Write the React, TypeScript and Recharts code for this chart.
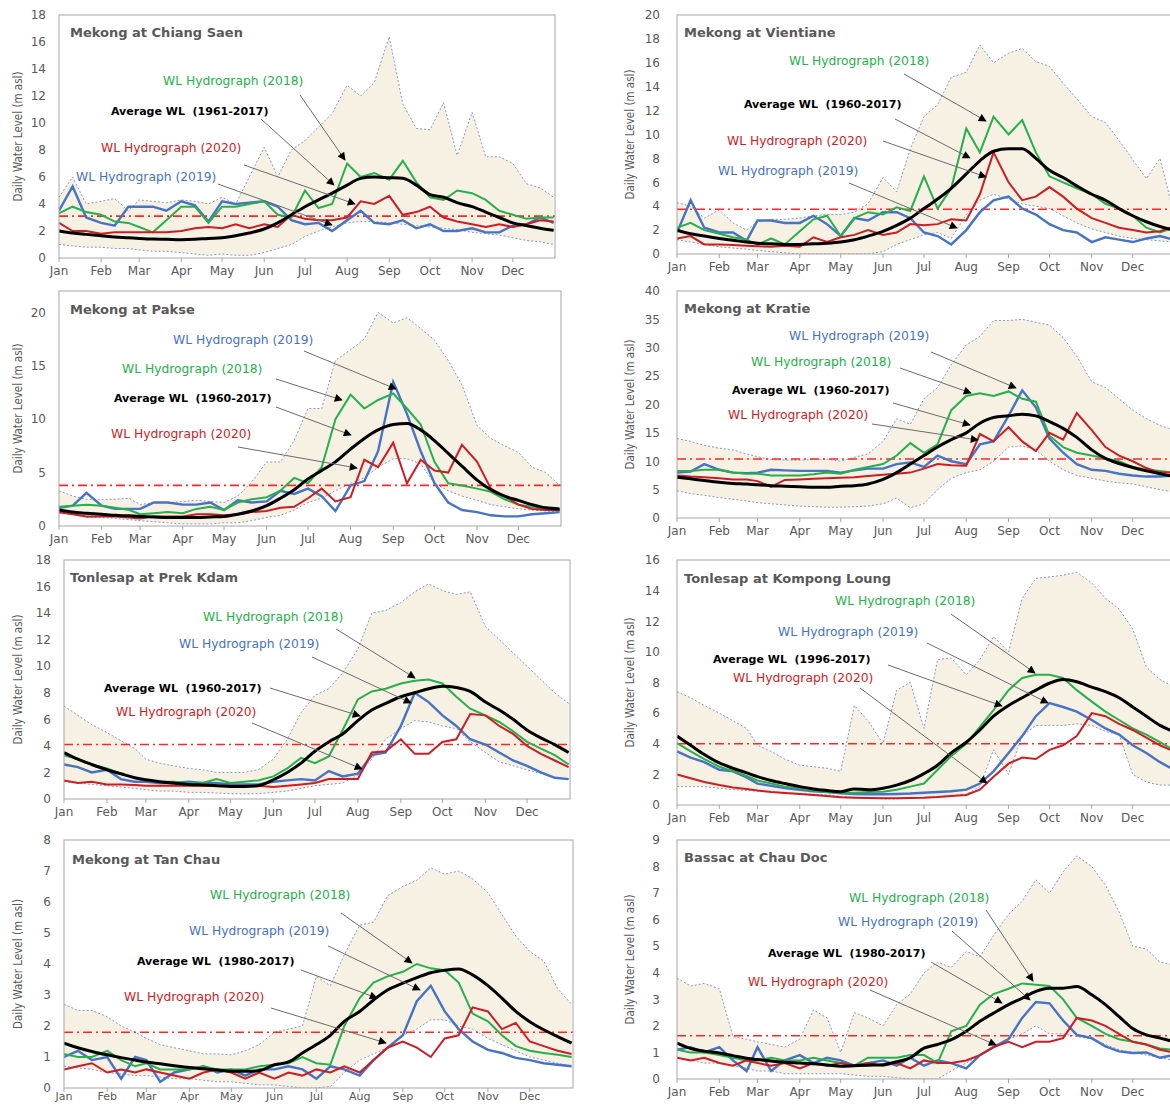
import React from 'react';
import { ComposedChart, Area, Line, XAxis, YAxis, ReferenceLine } from 'recharts';

// sample days (1st, 11th, 21st of each month + 31 Dec)
const DAYS = [1, 11, 21, 32, 42, 52, 60, 70, 80, 91, 101, 111, 121, 131, 141, 152, 162, 172, 182, 192, 202, 213, 223, 233, 244, 254, 264, 274, 284, 294, 305, 315, 325, 335, 345, 355, 365];
const MONTH_START = [1, 32, 60, 91, 121, 152, 182, 213, 244, 274, 305, 335];
const MONTHS = ['Jan', 'Feb', 'Mar', 'Apr', 'May', 'Jun', 'Jul', 'Aug', 'Sep', 'Oct', 'Nov', 'Dec'];

// Mekong at Chiang Saen
const chiangSaenMax = [4.5, 6.0, 4.0, 4.2, 4.4, 3.5, 4.3, 4.2, 4.1, 4.3, 4.2, 4.0, 4.5, 4.0, 6.0, 8.2, 6.0, 8.0, 8.7, 9.7, 10.7, 12.8, 12.0, 13.0, 16.4, 11.4, 9.6, 9.5, 11.5, 7.6, 10.8, 7.5, 7.5, 7.0, 5.5, 5.2, 4.5];
const chiangSaenMin = [1.0, 0.9, 0.8, 0.8, 0.7, 0.7, 0.6, 0.5, 0.5, 0.4, 0.3, 0.2, 0.3, 0.2, 0.2, 0.4, 0.7, 1.0, 1.6, 2.0, 2.3, 2.6, 2.7, 2.7, 2.6, 2.5, 2.4, 2.3, 2.2, 2.1, 1.9, 1.8, 1.7, 1.5, 1.3, 1.2, 1.0];
const chiangSaenAvg = [2.0, 1.85, 1.75, 1.65, 1.55, 1.5, 1.45, 1.4, 1.38, 1.35, 1.38, 1.45, 1.5, 1.65, 1.85, 2.15, 2.6, 3.2, 3.8, 4.3, 4.8, 5.4, 5.9, 6.0, 5.95, 5.9, 5.4, 4.7, 4.5, 4.1, 3.8, 3.4, 3.0, 2.6, 2.4, 2.2, 2.05];
const chiangSaen2018 = [3.3, 3.8, 3.4, 3.2, 2.7, 2.6, 2.3, 1.9, 2.8, 3.8, 3.8, 2.6, 3.8, 3.8, 4.0, 4.2, 3.2, 3.0, 5.0, 3.7, 4.0, 7.0, 6.0, 6.3, 5.8, 7.2, 5.6, 4.5, 4.3, 5.0, 4.8, 4.3, 3.5, 3.2, 2.9, 3.0, 3.0];
const chiangSaen2019 = [3.5, 5.3, 3.0, 2.6, 2.4, 3.8, 3.8, 3.8, 3.5, 4.2, 3.9, 2.7, 4.2, 4.0, 4.1, 4.2, 3.8, 2.8, 2.5, 2.6, 2.0, 2.8, 3.5, 2.6, 2.5, 2.8, 2.2, 2.5, 2.0, 2.0, 2.2, 1.9, 1.9, 2.4, 2.5, 3.0, 2.6];
const chiangSaen2020 = [2.6, 2.0, 2.0, 1.8, 1.9, 1.9, 1.9, 1.9, 1.9, 2.0, 2.2, 2.3, 2.2, 2.5, 2.2, 2.5, 2.3, 3.2, 2.9, 2.8, 2.8, 3.0, 4.2, 4.0, 4.6, 3.2, 3.4, 3.8, 3.0, 2.7, 2.5, 2.3, 2.5, 2.3, 2.5, 2.8, 2.7];
const chiangSaenAlarm = 3.1;
const chiangSaenTicks = [0, 2, 4, 6, 8, 10, 12, 14, 16, 18];

// Mekong at Vientiane
const vientianeMax = [4.3, 4.0, 3.0, 3.7, 2.6, 2.0, 2.7, 2.9, 2.9, 3.0, 3.2, 3.3, 3.3, 3.5, 4.2, 6.4, 5.2, 8.8, 11.5, 12.5, 14.8, 15.2, 17.5, 16.0, 16.8, 17.2, 16.1, 15.7, 14.3, 13.0, 11.5, 11.0, 9.5, 7.9, 6.3, 8.0, 3.5];
const vientianeMin = [1.2, 1.0, 0.8, 0.6, 0.5, 0.4, 0.3, 0.2, 0.1, 0.0, 0.0, 0.0, 0.0, 0.0, 0.0, 0.2, 0.8, 1.2, 1.6, 1.8, 1.3, 3.3, 4.5, 5.0, 4.6, 4.2, 4.0, 3.8, 3.2, 2.6, 2.1, 1.8, 1.5, 1.3, 1.2, 1.1, 1.0];
const vientianeAvg = [2.0, 1.7, 1.5, 1.3, 1.15, 1.0, 0.9, 0.85, 0.8, 0.8, 0.85, 0.9, 1.0, 1.2, 1.5, 1.9, 2.4, 3.0, 3.8, 4.6, 5.5, 6.7, 7.8, 8.6, 8.8, 8.8, 8.0, 7.0, 6.4, 5.7, 5.0, 4.5, 3.8, 3.2, 2.7, 2.3, 2.0];
const vientiane2018 = [2.2, 2.6, 2.0, 1.7, 1.4, 1.2, 0.8, 1.3, 0.8, 1.9, 2.9, 3.2, 1.5, 3.0, 3.5, 3.3, 3.9, 3.6, 6.5, 3.8, 5.5, 10.5, 8.5, 11.5, 10.0, 11.2, 8.5, 6.5, 6.0, 5.5, 5.0, 4.2, 3.8, 3.2, 2.2, 1.8, 2.2];
const vientiane2019 = [1.8, 4.5, 2.2, 1.8, 1.8, 1.1, 2.8, 2.8, 2.6, 2.6, 3.2, 2.5, 1.5, 3.0, 2.8, 3.5, 3.5, 3.0, 1.8, 1.5, 0.8, 2.0, 3.5, 4.5, 4.8, 3.8, 3.3, 2.5, 2.0, 1.8, 1.0, 1.4, 1.2, 1.0, 1.3, 1.5, 1.2];
const vientiane2020 = [1.3, 1.5, 0.8, 0.8, 0.75, 0.7, 0.65, 0.6, 0.7, 0.6, 1.4, 1.0, 1.4, 1.6, 2.0, 1.6, 1.8, 2.5, 2.4, 2.5, 2.9, 2.8, 5.0, 8.5, 6.0, 4.5, 4.8, 5.6, 4.8, 3.8, 3.0, 2.6, 2.2, 2.0, 1.8, 1.9, 2.3];
const vientianeAlarm = 3.75;
const vientianeTicks = [0, 2, 4, 6, 8, 10, 12, 14, 16, 18, 20];

// Mekong at Pakse
const pakseMax = [3.3, 2.8, 2.5, 2.5, 2.5, 2.6, 2.0, 2.2, 2.2, 2.3, 2.4, 2.3, 2.2, 2.8, 4.1, 6.0, 6.0, 8.0, 11.0, 11.0, 15.5, 16.5, 17.5, 20.0, 19.0, 19.5, 18.5, 17.4, 15.5, 13.2, 9.4, 8.2, 7.5, 6.9, 5.5, 5.0, 3.8];
const pakseMin = [1.2, 1.1, 0.8, 0.8, 0.7, 0.6, 0.5, 0.4, 0.3, 0.2, 0.2, 0.2, 0.3, 0.3, 0.5, 0.8, 1.0, 1.5, 2.2, 2.6, 3.3, 4.0, 4.5, 5.5, 6.3, 6.3, 5.8, 4.0, 3.3, 2.8, 2.4, 2.0, 1.8, 1.6, 1.5, 1.4, 1.3];
const pakseAvg = [1.5, 1.3, 1.2, 1.1, 1.0, 0.95, 0.9, 0.85, 0.8, 0.8, 0.8, 0.85, 0.9, 1.1, 1.4, 1.9, 2.6, 3.4, 4.4, 5.2, 6.0, 7.2, 8.2, 9.0, 9.5, 9.6, 9.0, 8.0, 6.8, 5.6, 4.3, 3.4, 2.8, 2.4, 2.0, 1.7, 1.6];
const pakse2018 = [1.8, 1.9, 2.0, 1.9, 1.7, 1.5, 1.1, 1.2, 1.3, 1.2, 1.6, 1.8, 1.5, 2.2, 2.5, 2.7, 3.3, 4.5, 4.0, 5.5, 10.0, 12.3, 11.0, 11.8, 12.4, 11.0, 9.5, 6.0, 4.0, 3.8, 3.5, 3.2, 2.5, 2.0, 1.8, 1.5, 1.5];
const pakse2019 = [1.7, 1.9, 3.1, 1.9, 1.6, 1.6, 1.6, 2.2, 2.2, 2.0, 2.0, 2.2, 1.5, 2.4, 2.2, 2.3, 3.3, 3.0, 3.5, 2.8, 1.4, 3.8, 4.2, 7.0, 13.5, 10.5, 7.0, 4.0, 2.2, 1.5, 1.3, 1.0, 0.9, 0.9, 1.1, 1.2, 1.3];
const pakse2020 = [1.3, 1.1, 0.9, 0.9, 0.9, 0.8, 0.7, 0.9, 0.9, 0.9, 1.1, 1.1, 1.0, 1.1, 1.3, 1.4, 1.7, 1.8, 2.6, 3.5, 2.3, 2.7, 6.2, 5.5, 7.8, 4.0, 6.2, 5.2, 5.0, 7.6, 6.0, 3.5, 2.8, 2.0, 1.6, 1.5, 1.5];
const pakseAlarm = 3.8;
const pakseTicks = [0, 5, 10, 15, 20];

// Mekong at Kratie
const kratieMax = [14.0, 13.5, 12.8, 12.3, 12.0, 11.3, 10.8, 10.3, 10.2, 10.2, 10.3, 10.4, 10.0, 10.7, 11.3, 13.5, 17.5, 16.5, 21.0, 23.0, 27.0, 30.5, 32.0, 34.8, 34.8, 35.0, 34.5, 34.0, 31.8, 28.5, 24.0, 23.0, 21.0, 19.0, 17.5, 16.3, 15.5];
const kratieMin = [4.8, 4.3, 4.0, 3.6, 3.3, 3.0, 2.7, 2.5, 2.3, 2.1, 2.0, 1.9, 1.9, 2.0, 2.1, 2.5, 3.5, 1.8, 2.5, 5.0, 7.0, 8.0, 8.5, 10.0, 12.5, 12.7, 12.0, 10.0, 8.5, 7.5, 7.0, 6.5, 6.2, 6.0, 5.5, 5.0, 4.6];
const kratieAvg = [7.2, 6.9, 6.6, 6.3, 6.1, 6.0, 5.85, 5.7, 5.6, 5.5, 5.4, 5.4, 5.6, 5.7, 6.0, 6.8, 8.0, 9.5, 11.0, 12.5, 13.8, 15.0, 16.7, 17.7, 18.0, 18.3, 18.0, 17.0, 15.8, 14.2, 12.0, 10.5, 9.6, 8.9, 8.3, 7.8, 7.3];
const kratie2018 = [8.3, 8.3, 8.5, 8.5, 8.0, 7.8, 7.8, 7.5, 7.5, 7.5, 7.7, 8.0, 7.8, 8.5, 9.0, 9.5, 11.0, 13.2, 11.5, 13.0, 19.0, 21.5, 22.0, 21.5, 22.3, 21.0, 20.5, 14.5, 12.5, 11.5, 11.0, 10.5, 10.0, 9.0, 8.5, 8.3, 8.0];
const kratie2019 = [8.0, 8.2, 9.5, 8.5, 8.0, 7.9, 8.0, 8.5, 8.4, 8.3, 8.3, 8.3, 8.0, 8.4, 8.7, 8.7, 9.5, 9.8, 9.0, 11.0, 10.0, 9.5, 13.0, 13.5, 18.0, 22.5, 19.5, 14.0, 11.5, 9.5, 8.5, 8.3, 7.8, 7.5, 7.3, 7.3, 7.5];
const kratie2020 = [7.5, 7.3, 7.2, 7.0, 6.8, 6.8, 6.5, 5.5, 6.7, 6.8, 6.9, 7.0, 7.1, 7.2, 7.4, 7.6, 7.8, 8.0, 8.7, 9.5, 9.3, 9.2, 14.8, 13.5, 16.0, 13.5, 11.8, 15.0, 13.8, 18.5, 15.5, 12.5, 11.0, 10.0, 8.8, 8.0, 8.0];
const kratieAlarm = 10.4;
const kratieTicks = [0, 5, 10, 15, 20, 25, 30, 35, 40];

// Tonlesap at Prek Kdam
const prekKdamMax = [7.0, 6.3, 5.6, 5.0, 4.4, 3.8, 3.0, 2.7, 2.5, 2.3, 2.2, 2.0, 2.0, 2.0, 2.2, 3.0, 4.5, 6.5, 7.8, 8.3, 9.5, 11.3, 14.0, 14.2, 14.8, 15.6, 16.2, 15.7, 15.4, 15.6, 13.0, 12.0, 11.0, 10.0, 9.0, 8.0, 7.2];
const prekKdamMin = [1.3, 1.2, 1.1, 1.0, 0.9, 0.8, 0.7, 0.6, 0.6, 0.5, 0.5, 0.45, 0.4, 0.4, 0.4, 0.5, 0.6, 0.8, 1.0, 1.1, 1.2, 1.8, 3.0, 4.5, 5.3, 5.9, 5.8, 5.5, 5.3, 4.3, 3.5, 2.8, 2.5, 2.2, 1.9, 1.6, 1.5];
const prekKdamAvg = [3.5, 3.0, 2.6, 2.2, 1.9, 1.6, 1.45, 1.3, 1.2, 1.1, 1.05, 1.0, 0.95, 0.95, 1.0, 1.45, 2.0, 2.7, 3.6, 4.3, 4.9, 5.9, 6.7, 7.2, 7.7, 8.0, 8.3, 8.5, 8.4, 8.1, 7.3, 6.7, 6.0, 5.2, 4.6, 4.1, 3.5];
const prekKdam2018 = [3.3, 3.0, 2.6, 2.3, 1.9, 1.6, 1.4, 1.3, 1.3, 1.2, 1.2, 1.5, 1.2, 1.3, 1.4, 1.7, 2.3, 3.1, 2.7, 3.2, 5.2, 7.5, 8.1, 8.3, 8.7, 8.9, 9.0, 8.7, 7.7, 6.8, 6.3, 5.8, 5.1, 4.3, 3.8, 3.3, 2.6];
const prekKdam2019 = [2.6, 2.4, 2.0, 2.2, 1.5, 1.3, 1.3, 1.2, 1.2, 1.3, 1.2, 1.2, 1.1, 1.1, 1.1, 1.3, 1.4, 1.5, 1.4, 2.1, 1.7, 1.9, 3.3, 3.5, 5.5, 8.0, 7.3, 6.3, 5.5, 4.5, 4.1, 3.5, 2.9, 2.5, 2.0, 1.6, 1.5];
const prekKdam2020 = [1.4, 1.2, 1.3, 1.1, 1.1, 1.05, 1.0, 1.0, 1.0, 1.0, 1.0, 1.0, 1.0, 1.0, 1.0, 0.9, 1.0, 1.1, 1.2, 1.5, 1.5, 1.5, 3.5, 3.6, 4.5, 3.4, 3.4, 4.3, 4.5, 6.4, 6.3, 5.5, 4.9, 4.0, 3.4, 2.9, 2.4];
const prekKdamAlarm = 4.1;
const prekKdamTicks = [0, 2, 4, 6, 8, 10, 12, 14, 16, 18];

// Tonlesap at Kompong Loung
const kompongLoungMax = [7.4, 7.0, 6.5, 6.0, 5.5, 5.0, 3.9, 3.5, 3.0, 2.6, 2.5, 2.4, 2.2, 6.5, 5.5, 4.0, 7.5, 8.0, 5.0, 9.5, 9.6, 8.5, 9.5, 11.0, 10.0, 13.5, 14.8, 14.9, 15.0, 15.2, 14.5, 13.5, 12.8, 11.5, 9.0, 8.2, 7.7];
const kompongLoungMin = [1.2, 1.2, 1.2, 1.1, 1.0, 0.95, 0.9, 0.85, 0.8, 0.75, 0.7, 0.65, 0.55, 0.5, 0.45, 0.4, 0.4, 0.45, 0.5, 0.55, 0.6, 0.7, 1.2, 3.6, 2.0, 4.5, 5.2, 5.2, 5.2, 5.3, 5.2, 4.8, 4.6, 2.0, 1.5, 1.3, 1.3];
const kompongLoungAvg = [4.5, 3.9, 3.3, 2.75, 2.4, 2.1, 1.85, 1.6, 1.4, 1.2, 1.05, 0.95, 0.87, 1.05, 1.0, 1.1, 1.3, 1.6, 2.05, 2.6, 3.4, 4.1, 4.9, 5.8, 6.5, 7.0, 7.5, 7.95, 8.2, 8.05, 7.7, 7.4, 7.0, 6.4, 5.8, 5.2, 4.8];
const kompongLoung2018 = [4.05, 3.5, 3.0, 2.5, 2.2, 1.9, 1.6, 1.4, 1.2, 1.1, 0.95, 0.85, 0.8, 0.8, 0.85, 0.87, 1.0, 1.2, 1.4, 2.3, 3.2, 4.0, 5.1, 6.2, 7.5, 8.3, 8.5, 8.5, 8.3, 7.5, 6.75, 6.1, 5.55, 5.0, 4.6, 4.1, 3.6];
const kompongLoung2019 = [3.5, 3.1, 2.8, 2.3, 2.2, 1.8, 1.4, 1.25, 1.1, 1.0, 0.9, 0.85, 0.76, 0.72, 0.7, 0.7, 0.72, 0.75, 0.8, 0.85, 0.9, 1.0, 1.4, 2.2, 3.4, 4.5, 5.8, 6.65, 6.4, 6.1, 5.55, 5.0, 4.6, 3.9, 3.4, 2.8, 2.3];
const kompongLoung2020 = [2.0, 1.75, 1.5, 1.3, 1.15, 1.05, 0.94, 0.85, 0.78, 0.72, 0.65, 0.58, 0.5, 0.47, 0.45, 0.44, 0.44, 0.46, 0.48, 0.52, 0.58, 0.65, 1.0, 1.85, 2.7, 3.1, 3.0, 3.6, 3.9, 4.5, 6.0, 5.8, 5.3, 4.9, 4.4, 3.9, 3.5];
const kompongLoungAlarm = 4.0;
const kompongLoungTicks = [0, 2, 4, 6, 8, 10, 12, 14, 16];

// Mekong at Tan Chau
const tanChauMax = [2.7, 2.5, 2.5, 2.3, 2.0, 1.8, 1.6, 1.4, 1.3, 1.2, 1.1, 1.1, 1.07, 1.2, 1.4, 1.8, 1.9, 2.0, 3.6, 3.3, 4.3, 5.25, 5.35, 6.2, 6.5, 6.7, 7.1, 6.9, 7.0, 6.75, 6.3, 5.6, 4.9, 4.4, 4.1, 3.2, 2.7];
const tanChauMin = [0.7, 0.65, 0.6, 0.5, 0.45, 0.4, 0.4, 0.35, 0.3, 0.3, 0.25, 0.2, 0.2, 0.15, 0.1, 0.1, 0.05, 0.0, 0.0, 0.05, 0.5, 0.9, 1.1, 1.3, 1.7, 1.9, 2.2, 2.2, 2.0, 1.9, 1.6, 1.4, 1.2, 1.0, 0.9, 0.8, 0.7];
const tanChauAvg = [1.45, 1.3, 1.18, 1.07, 0.98, 0.9, 0.84, 0.78, 0.72, 0.66, 0.62, 0.58, 0.54, 0.54, 0.56, 0.75, 0.84, 1.13, 1.4, 1.7, 2.15, 2.47, 2.84, 3.16, 3.38, 3.56, 3.72, 3.8, 3.84, 3.65, 3.3, 2.9, 2.47, 2.14, 1.88, 1.66, 1.45];
const tanChau2018 = [1.1, 1.0, 1.0, 1.2, 0.9, 0.7, 0.8, 0.6, 0.6, 0.6, 0.7, 0.6, 0.6, 0.6, 0.7, 0.75, 0.8, 1.0, 0.8, 0.75, 2.0, 2.9, 3.4, 3.6, 3.75, 4.0, 3.86, 3.8, 3.4, 2.4, 2.15, 1.7, 1.35, 1.2, 1.13, 1.07, 1.0];
const tanChau2019 = [1.0, 1.2, 0.9, 1.0, 0.3, 1.0, 0.9, 0.2, 0.5, 0.6, 0.7, 0.5, 0.6, 0.4, 0.6, 0.6, 0.7, 0.6, 0.3, 0.7, 0.6, 0.4, 0.9, 1.3, 1.7, 2.8, 3.3, 2.47, 1.9, 1.5, 1.23, 1.13, 0.97, 0.9, 0.8, 0.75, 0.7];
const tanChau2020 = [0.6, 0.7, 0.8, 0.5, 0.6, 0.5, 0.6, 0.5, 0.4, 0.3, 0.5, 0.6, 0.5, 0.3, 0.5, 0.3, 0.5, 0.4, 0.6, 0.5, 0.7, 0.5, 0.9, 1.3, 1.5, 1.3, 1.0, 1.6, 1.7, 2.6, 2.47, 1.9, 2.1, 1.5, 1.35, 1.2, 1.1];
const tanChauAlarm = 1.8;
const tanChauTicks = [0, 1, 2, 3, 4, 5, 6, 7, 8];

// Bassac at Chau Doc
const chauDocMax = [3.8, 3.5, 3.6, 3.4, 1.6, 1.5, 1.4, 1.3, 1.2, 1.5, 2.6, 2.3, 1.0, 2.5, 2.3, 2.0, 2.8, 3.2, 4.0, 4.4, 4.2, 4.8, 4.6, 5.4, 6.2, 6.7, 7.5, 7.0, 7.8, 8.4, 8.0, 7.3, 6.3, 5.0, 4.9, 4.4, 4.3];
const chauDocMin = [0.8, 0.7, 0.6, 0.6, 0.5, 0.4, 0.3, 0.3, 0.2, 0.2, 0.2, 0.2, 0.2, 0.15, 0.1, 0.1, 0.05, 0.0, 0.0, 0.0, 0.3, 0.6, 0.9, 1.2, 1.5, 1.7, 2.0, 1.7, 1.7, 1.6, 1.5, 1.3, 1.1, 1.0, 0.9, 0.8, 0.7];
const chauDocAvg = [1.35, 1.15, 1.05, 0.98, 0.88, 0.78, 0.73, 0.68, 0.63, 0.6, 0.57, 0.53, 0.48, 0.5, 0.52, 0.54, 0.65, 0.8, 1.16, 1.3, 1.48, 1.8, 2.17, 2.48, 2.8, 3.04, 3.3, 3.42, 3.42, 3.48, 3.17, 2.8, 2.35, 1.9, 1.66, 1.54, 1.41];
const chauDoc2018 = [1.1, 1.0, 1.0, 0.9, 0.8, 0.7, 0.7, 0.8, 0.7, 0.7, 0.8, 0.7, 0.6, 0.5, 0.8, 0.8, 0.8, 0.9, 0.9, 0.6, 1.8, 2.0, 2.8, 3.2, 3.4, 3.6, 3.55, 3.5, 3.0, 2.3, 2.0, 1.7, 1.5, 1.4, 1.3, 1.15, 1.1];
const chauDoc2019 = [1.1, 1.2, 1.0, 1.2, 0.7, 0.3, 1.2, 0.3, 0.7, 0.9, 0.6, 0.8, 0.7, 0.5, 0.6, 0.7, 0.5, 0.8, 0.5, 0.7, 0.6, 0.4, 0.9, 1.2, 1.5, 2.3, 2.9, 2.85, 2.2, 1.66, 1.54, 1.23, 1.04, 0.98, 1.0, 0.8, 0.9];
const chauDoc2020 = [0.8, 0.7, 0.8, 0.6, 0.5, 0.7, 0.6, 0.5, 0.6, 0.4, 0.6, 0.5, 0.6, 0.5, 0.6, 0.5, 0.6, 0.4, 0.7, 0.6, 0.6, 0.7, 0.9, 1.2, 1.4, 1.2, 1.4, 1.4, 1.54, 2.3, 2.2, 2.0, 1.7, 1.4, 1.3, 1.1, 1.0];
const chauDocAlarm = 1.63;
const chauDocTicks = [0, 1, 2, 3, 4, 5, 6, 7, 8, 9];

const FONT = "'DejaVu Sans', Verdana, sans-serif";
const NARROW = "'Liberation Sans Narrow', 'DejaVu Sans Condensed', sans-serif";
const GREY = '#595959';
const C2018 = '#25b04b';
const C2019 = '#4673c6';
const C2020 = '#cc1d25';
const AXIS_W = 60;
const TOP_PAD = 10;
const X_H = 25;

type Pt = [number, number];
type Seg = [number, number, number, number];

const PANELS = [
  {
    title: 'Mekong at Chiang Saen', period: '1961-2017', side: 'left', xGap: 4, xFont: 12,
    max: chiangSaenMax, min: chiangSaenMin, avg: chiangSaenAvg, y18: chiangSaen2018, y19: chiangSaen2019, y20: chiangSaen2020,
    alarm: chiangSaenAlarm, ticks: chiangSaenTicks, yMax: 18,
    box: { x: 59, y: 15, w: 496, h: 243 }, titleAt: [70, 32] as Pt,
    lab: { g: [163, 81] as Pt, a: [111, 111] as Pt, r: [101, 148] as Pt, b: [76, 177] as Pt },
    arr: { g: [300, 95, 345, 160] as Seg, a: [261, 119, 334, 185] as Seg, r: [244, 165, 355, 204] as Seg, b: [218, 184, 332, 225] as Seg },
  },
  {
    title: 'Mekong at Vientiane', period: '1960-2017', side: 'right', xGap: 4, xFont: 12,
    max: vientianeMax, min: vientianeMin, avg: vientianeAvg, y18: vientiane2018, y19: vientiane2019, y20: vientiane2020,
    alarm: vientianeAlarm, ticks: vientianeTicks, yMax: 20,
    box: { x: 677, y: 15, w: 498, h: 239 }, titleAt: [684, 32] as Pt,
    lab: { g: [789, 61] as Pt, a: [744, 104] as Pt, r: [727, 141] as Pt, b: [718, 171] as Pt },
    arr: { g: [904, 74, 986, 121] as Seg, a: [895, 119, 970, 158] as Seg, r: [883, 141, 986, 177] as Seg, b: [849, 183, 957, 228] as Seg },
  },
  {
    title: 'Mekong at Pakse', period: '1960-2017', side: 'left', xGap: 4, xFont: 12,
    max: pakseMax, min: pakseMin, avg: pakseAvg, y18: pakse2018, y19: pakse2019, y20: pakse2020,
    alarm: pakseAlarm, ticks: pakseTicks, yMax: 22,
    box: { x: 59, y: 291, w: 502, h: 235 }, titleAt: [70, 309] as Pt,
    lab: { b: [173, 340] as Pt, g: [122, 369] as Pt, a: [114, 398] as Pt, r: [111, 434] as Pt },
    arr: { b: [304, 351, 396, 389] as Seg, g: [276, 379, 342, 400] as Seg, a: [276, 407, 351, 435] as Seg, r: [238, 447, 357, 468] as Seg },
  },
  {
    title: 'Mekong at Kratie', period: '1960-2017', side: 'right', xGap: 4, xFont: 12,
    max: kratieMax, min: kratieMin, avg: kratieAvg, y18: kratie2018, y19: kratie2019, y20: kratie2020,
    alarm: kratieAlarm, ticks: kratieTicks, yMax: 40,
    box: { x: 677, y: 291, w: 498, h: 227 }, titleAt: [684, 308] as Pt,
    lab: { b: [789, 336] as Pt, g: [751, 362] as Pt, a: [732, 390] as Pt, r: [728, 415] as Pt },
    arr: { b: [931, 352, 1016, 388] as Seg, g: [900, 368, 971, 393] as Seg, a: [893, 403, 970, 425] as Seg, r: [872, 424, 978, 440] as Seg },
  },
  {
    title: 'Tonlesap at Prek Kdam', period: '1960-2017', side: 'left', xGap: 4, xFont: 12,
    max: prekKdamMax, min: prekKdamMin, avg: prekKdamAvg, y18: prekKdam2018, y19: prekKdam2019, y20: prekKdam2020,
    alarm: prekKdamAlarm, ticks: prekKdamTicks, yMax: 18,
    box: { x: 64, y: 560, w: 506, h: 239 }, titleAt: [70, 577] as Pt,
    lab: { g: [203, 617] as Pt, b: [179, 644] as Pt, a: [104, 688] as Pt, r: [116, 712] as Pt },
    arr: { g: [336, 629, 415, 678] as Seg, b: [312, 657, 411, 703] as Seg, a: [270, 688, 360, 716] as Seg, r: [252, 723, 362, 769] as Seg },
  },
  {
    title: 'Tonlesap at Kompong Loung', period: '1996-2017', side: 'right', xGap: 4, xFont: 12,
    max: kompongLoungMax, min: kompongLoungMin, avg: kompongLoungAvg, y18: kompongLoung2018, y19: kompongLoung2019, y20: kompongLoung2020,
    alarm: kompongLoungAlarm, ticks: kompongLoungTicks, yMax: 16,
    box: { x: 677, y: 560, w: 498, h: 245 }, titleAt: [684, 578] as Pt,
    lab: { g: [835, 601] as Pt, b: [778, 632] as Pt, a: [713, 659] as Pt, r: [733, 678] as Pt },
    arr: { g: [951, 614, 1035, 673] as Seg, b: [927, 643, 1048, 703] as Seg, a: [888, 665, 1002, 706] as Seg, r: [860, 688, 987, 783] as Seg },
  },
  {
    title: 'Mekong at Tan Chau', period: '1980-2017', side: 'left', xGap: 0, xFont: 11,
    max: tanChauMax, min: tanChauMin, avg: tanChauAvg, y18: tanChau2018, y19: tanChau2019, y20: tanChau2020,
    alarm: tanChauAlarm, ticks: tanChauTicks, yMax: 8,
    box: { x: 64, y: 840, w: 509, h: 248 }, titleAt: [72, 859] as Pt,
    lab: { g: [210, 895] as Pt, b: [189, 931] as Pt, a: [137, 961] as Pt, r: [124, 997] as Pt },
    arr: { g: [341, 913, 412, 963] as Seg, b: [328, 946, 420, 990] as Seg, a: [301, 970, 377, 998] as Seg, r: [271, 1008, 386, 1043] as Seg },
  },
  {
    title: 'Bassac at Chau Doc', period: '1980-2017', side: 'right', xGap: 4, xFont: 12,
    max: chauDocMax, min: chauDocMin, avg: chauDocAvg, y18: chauDoc2018, y19: chauDoc2019, y20: chauDoc2020,
    alarm: chauDocAlarm, ticks: chauDocTicks, yMax: 9,
    box: { x: 677, y: 840, w: 498, h: 239 }, titleAt: [684, 857] as Pt,
    lab: { g: [849, 898] as Pt, b: [838, 922] as Pt, a: [768, 953] as Pt, r: [748, 982] as Pt },
    arr: { g: [986, 910, 1033, 981] as Seg, b: [952, 931, 1030, 1000] as Seg, a: [931, 962, 1002, 1003] as Seg, r: [870, 990, 996, 1045] as Seg },
  },
];

type Panel = (typeof PANELS)[number];

function HydroPanel({ p }: { p: Panel }) {
  const rows = DAYS.map((day, i) => ({
    day,
    band: [p.min[i], p.max[i]],
    max: p.max[i],
    min: p.min[i],
    avg: p.avg[i],
    y2018: p.y18[i],
    y2019: p.y19[i],
    y2020: p.y20[i],
  }));
  const { x, y, w, h } = p.box;
  return (
    <div style={{ position: 'absolute', left: x - AXIS_W, top: y - TOP_PAD }}>
      <ComposedChart width={w + AXIS_W} height={h + TOP_PAD + X_H} data={rows} margin={{ top: TOP_PAD, right: 0, bottom: 0, left: 0 }}>
        <XAxis
          type="number"
          dataKey="day"
          domain={[1, 366]}
          ticks={MONTH_START}
          interval={0}
          allowDataOverflow
          height={X_H}
          axisLine={false}
          tickLine={{ stroke: '#a6a6a6' }}
          tickSize={4}
          tickMargin={p.xGap}
          tickFormatter={(v: number) => MONTHS[MONTH_START.indexOf(v)] ?? ''}
          tick={{ fontSize: p.xFont, fill: GREY, fontFamily: FONT }}
        />
        <YAxis
          type="number"
          domain={[0, p.yMax]}
          ticks={p.ticks}
          interval={0}
          allowDataOverflow
          width={AXIS_W}
          axisLine={false}
          tickLine={false}
          tickMargin={p.side === 'left' ? 7 : 11}
          tick={{ fontSize: 12, fill: GREY, fontFamily: FONT }}
        />
        <Area dataKey="band" type="linear" fill="#f7f1e3" fillOpacity={1} stroke="none" isAnimationActive={false} />
        <Line dataKey="max" type="linear" stroke="#8797c6" strokeWidth={1} strokeDasharray="2 2" dot={false} activeDot={false} isAnimationActive={false} />
        <Line dataKey="min" type="linear" stroke="#8797c6" strokeWidth={1} strokeDasharray="2 2" dot={false} activeDot={false} isAnimationActive={false} />
        <ReferenceLine y={p.alarm} stroke="#ff2626" strokeWidth={1.6} strokeDasharray="9 4 2 4" />
        <Line dataKey="y2019" type="linear" stroke={C2019} strokeWidth={2.4} dot={false} activeDot={false} isAnimationActive={false} />
        <Line dataKey="y2018" type="linear" stroke={C2018} strokeWidth={2} dot={false} activeDot={false} isAnimationActive={false} />
        <Line dataKey="y2020" type="linear" stroke={C2020} strokeWidth={2} dot={false} activeDot={false} isAnimationActive={false} />
        <Line dataKey="avg" type="monotone" stroke="#000" strokeWidth={3} dot={false} activeDot={false} isAnimationActive={false} />
      </ComposedChart>
    </div>
  );
}

function Arrow({ s }: { s: Seg }) {
  return <line x1={s[0]} y1={s[1]} x2={s[2]} y2={s[3]} stroke="#6b6b6b" strokeWidth={1} markerEnd="url(#arrowHead)" />;
}

function Label({ at, color, text, bold }: { at: Pt; color: string; text: string; bold?: boolean }) {
  return (
    <text
      x={at[0]}
      y={at[1]}
      dominantBaseline="central"
      fill={color}
      fontFamily={FONT}
      fontSize={bold ? 11 : 12.3}
      fontWeight={bold ? 700 : 400}
      style={{ whiteSpace: 'pre' }}
    >
      {text}
    </text>
  );
}

export default function App() {
  return (
    <div style={{ position: 'absolute', left: 0, top: 0, width: 1170, height: 1106, overflow: 'hidden', background: '#fff' }}>
      {PANELS.map((p) => (
        <HydroPanel key={p.title} p={p} />
      ))}
      <svg width={1170} height={1106} style={{ position: 'absolute', left: 0, top: 0, pointerEvents: 'none' }}>
        <defs>
          <marker id="arrowHead" viewBox="0 0 10 10" refX="9" refY="5" markerWidth="10" markerHeight="8" markerUnits="userSpaceOnUse" orient="auto">
            <path d="M0,0 L10,5 L0,10 z" fill="#000" />
          </marker>
        </defs>
        {PANELS.map((p) => {
          const { x, y, w, h } = p.box;
          const tx = p.side === 'left' ? 18 : 630;
          const cy = y + h / 2;
          return (
            <g key={p.title}>
              <rect x={x} y={y} width={w} height={h} fill="none" stroke="#a6a6a6" strokeWidth={1} />
              <text x={p.titleAt[0]} y={p.titleAt[1]} dominantBaseline="central" fill={GREY} fontFamily={FONT} fontSize={13} fontWeight={700}>
                {p.title}
              </text>
              <text
                x={tx}
                y={cy}
                transform={`rotate(-90 ${tx} ${cy})`}
                textAnchor="middle"
                dominantBaseline="central"
                fill={GREY}
                fontFamily={NARROW}
                fontSize={11.5}
              >
                Daily Water Level (m asl)
              </text>
              <Label at={p.lab.g} color={C2018} text="WL Hydrograph (2018)" />
              <Label at={p.lab.b} color={C2019} text="WL Hydrograph (2019)" />
              <Label at={p.lab.r} color={C2020} text="WL Hydrograph (2020)" />
              <Label at={p.lab.a} color="#000" text={`Average WL  (${p.period})`} bold />
              <Arrow s={p.arr.g} />
              <Arrow s={p.arr.b} />
              <Arrow s={p.arr.r} />
              <Arrow s={p.arr.a} />
            </g>
          );
        })}
      </svg>
    </div>
  );
}
